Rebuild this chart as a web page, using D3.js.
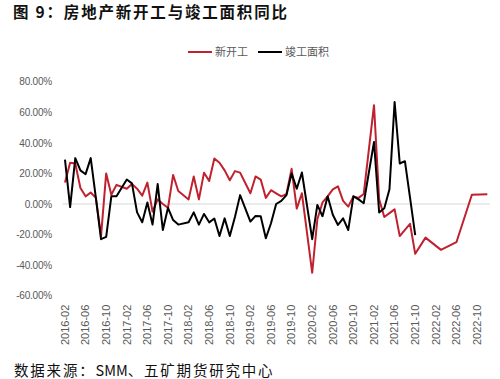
<!DOCTYPE html>
<html>
<head>
<meta charset="utf-8">
<script src="https://cdn.jsdelivr.net/npm/d3@7"></script>
<style>
  body { margin: 0; background: #fff; }
</style>
</head>
<body>
<script>
// months 2016-02 .. 2022-12 (category axis, one slot per month)
const firstMonth = new Date(2016, 1, 1);
const lastMonth = new Date(2022, 11, 1);
const months = d3.timeMonths(firstMonth, d3.timeMonth.offset(lastMonth, 1)).map(d3.timeFormat("%Y-%m"));

const seriesNames = ["新开工", "竣工面积"];
const seriesColors = ["#C0212F", "#000000"];

// YoY %, null = no value for that month
const newStarts = [
  14, 27, 26.5, 10.5, 5, 7.5, 4, -21, 20, 6, 12.5,
  null, 10, 13, 10, 5.5, 14, -5, 3, 0, -2.5, 19, 8.5,
  null, 3, 18, 3, 20.5, 15, 29.8, 27, 22, 15.5, 21.5, 20.5,
  null, 7, 18, 16, 4, 9, 7, 5, 6.5, 23, -3, 7,
  null, -45, -10, 1, 5, 9.5, 11.5, 2, -1.7, 5, 4, 6.5,
  null, 64.6, 3, -8.5, -6, -3.5, -21, -17, -13, -32.6, null, -22,
  null, null, -30, null, null, -25, null, null, 6, null, null, 6.3
];
const completed = [
  29, -2, 30, 22, 19.5, 30, 4, -23, -21.5, 5, 5,
  null, 16, 13.5, -5.5, -12, 1, -13.5, 13, -17, -2.5, -10.5, -13.5,
  null, -12, -5.5, -13.5, -6.5, -12, -9.5, -21, -9.4, -21, -8.5, 5.8,
  null, -11.5, -7.8, -8, -22.4, -12.6, 0, 2, 5.8, 20, 10, 20.6,
  null, -23, -0.6, -8, 5, -7, -13.7, -9.4, -17, 5, 3, 0.5,
  null, 40.6, -5.6, -2.8, 9.6, 66.7, 26.5, 28, 4, -20.3, null, null,
  null, null, null, null, null, null, null, null, null, null, null, null
];
const yTicks = [-60, -40, -20, 0, 20, 40, 60, 80];

const width = 500, height = 379;
const svg = d3.select("body").append("svg")
  .attr("width", width)
  .attr("height", height)
  .style("font-family", "'Liberation Sans', Arial, sans-serif");

const x = d3.scaleBand().domain(months).range([62.4, 489.9]).padding(0);
const y = d3.scaleLinear().domain([-60, 80]).range([295.7, 81.7]);
const xc = m => x(m) + x.bandwidth() / 2;

// title
svg.append("text")
  .attr("x", 13)
  .attr("y", 18)
  .attr("font-family", "'Noto Sans CJK SC', sans-serif")
  .attr("font-weight", "bold")
  .attr("font-size", "15.5px")
  .attr("letter-spacing", "1.8px")
  .attr("fill", "#111")
  .text("图 9：房地产新开工与竣工面积同比");

// legend
const legend = svg.append("g").attr("transform", "translate(188,52)");
const legendX = [0, 70];
seriesNames.forEach((name, i) => {
  const g = legend.append("g").attr("transform", `translate(${legendX[i]},0)`);
  g.append("line")
    .attr("x1", 0).attr("x2", 24)
    .attr("stroke", seriesColors[i])
    .attr("stroke-width", 2);
  g.append("text")
    .attr("x", 27)
    .attr("y", 4)
    .attr("font-family", "'Noto Sans CJK SC', sans-serif")
    .attr("font-size", "11px")
    .attr("fill", "#595959")
    .text(name);
});

// zero line
svg.append("line")
  .attr("x1", 62.4).attr("x2", 489.9)
  .attr("y1", y(0)).attr("y2", y(0))
  .attr("stroke", "#d9d9d9")
  .attr("stroke-width", 1);

// y axis
const yAxis = svg.append("g")
  .attr("transform", "translate(62,0)")
  .call(d3.axisLeft(y).tickValues(yTicks).tickSize(0).tickPadding(10)
    .tickFormat(d => d.toFixed(2) + "%"));
yAxis.select(".domain").remove();
yAxis.selectAll("text")
  .attr("font-size", "10px")
  .attr("font-family", "'Liberation Sans', Arial, sans-serif")
  .attr("letter-spacing", "-0.2px")
  .attr("fill", "#595959");

// x axis
const xAxis = svg.append("g")
  .attr("transform", `translate(0,${y(-60)})`)
  .call(d3.axisBottom(x).tickValues(months.filter((m, i) => i % 4 === 0)).tickSize(0));
xAxis.select(".domain").remove();
xAxis.selectAll("text")
  .attr("transform", "rotate(-90)")
  .attr("text-anchor", "end")
  .attr("x", -9)
  .attr("y", 0)
  .attr("dy", "0.35em")
  .attr("font-size", "11px")
  .attr("font-family", "'Liberation Sans', Arial, sans-serif")
  .attr("fill", "#595959");

// lines
const line = d3.line()
  .x(d => xc(d.m))
  .y(d => y(d.v));

[newStarts, completed].forEach((vals, i) => {
  const pts = months.map((m, j) => ({ m: m, v: vals[j] })).filter(d => d.v != null);
  svg.append("path")
    .datum(pts)
    .attr("fill", "none")
    .attr("stroke", seriesColors[i])
    .attr("stroke-width", 2)
    .attr("stroke-linejoin", "round")
    .attr("d", line);
});

// source
const src = svg.append("text")
  .attr("x", 14)
  .attr("y", 376)
  .attr("font-family", "'Noto Sans CJK SC', sans-serif")
  .attr("font-size", "14.5px")
  .attr("fill", "#111");
src.append("tspan").attr("letter-spacing", "1.8px").text("数据来源：");
src.append("tspan").attr("letter-spacing", "0px").text("SMM");
src.append("tspan").attr("letter-spacing", "1.8px").text("、五矿期货研究中心");
</script>
</body>
</html>
